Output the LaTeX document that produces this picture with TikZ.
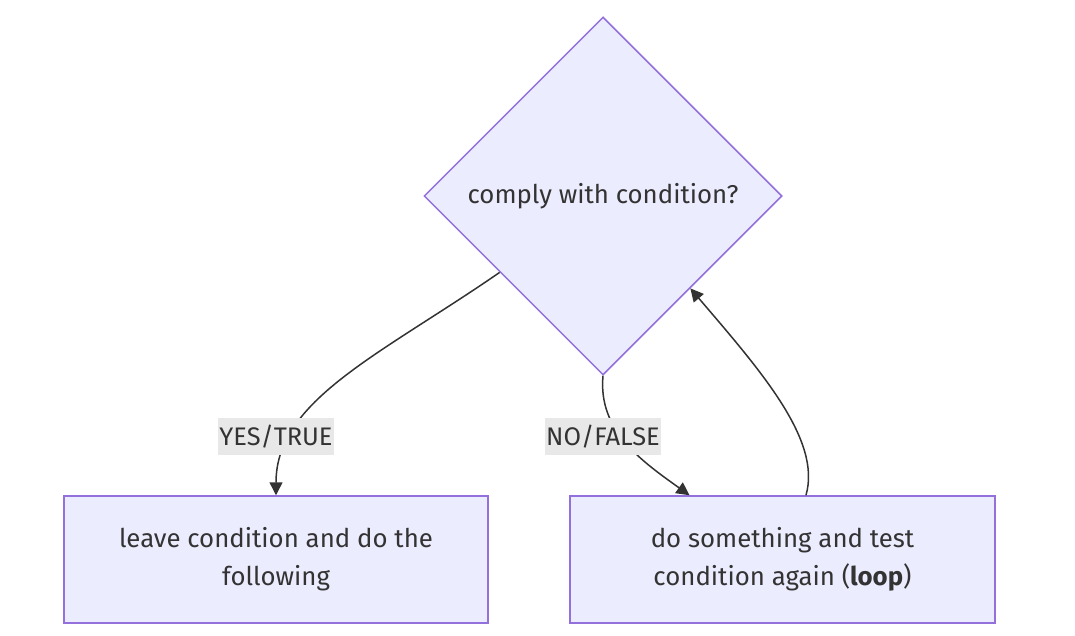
\documentclass[tikz,border=0pt]{standalone}
\usepackage{fontspec}
\setmainfont{Fira Sans}
\usetikzlibrary{shapes.geometric,arrows.meta,calc}
\definecolor{nodefill}{HTML}{ECECFF}
\definecolor{nodeline}{HTML}{9370DB}
\definecolor{edgecol}{HTML}{333333}
\definecolor{labelbg}{HTML}{E8E8E8}
\definecolor{txt}{HTML}{333333}
\tikzset{
  base/.style={draw=nodeline, fill=nodefill, line width=1.5pt, text=txt,
    font=\fontsize{25.8}{38}\selectfont, align=center, inner sep=0pt},
  decision/.style={base, diamond, aspect=1, minimum width=358pt, minimum height=358pt},
  procbox/.style={base, rectangle, minimum height=127pt},
  edge/.style={draw=edgecol, line width=1.5pt, -{Triangle[length=13pt,width=13pt]}},
  elabel/.style={fill=labelbg, text=txt, font=\fontsize{25.4}{30}\selectfont,
    inner xsep=1.5pt, inner ysep=0pt, minimum height=37pt}
}
\begin{document}
\begin{tikzpicture}[x=1pt,y=-1pt]
\useasboundingbox (0,0) rectangle (1075,636);
\node[decision] (d) at (603,196) {comply with condition?};
\node[procbox, minimum width=424pt] (l) at (276,559.5) {leave condition and do the\\following};
\node[procbox, minimum width=425pt] (r) at (782.5,559.5) {do something and test\\condition again (\textbf{loop})};
\coordinate (s1) at ($(d.west)!0.425!(d.south)$);
\coordinate (e2) at ($(r.north west)!0.282!(r.north east)$);
\coordinate (s3) at ($(r.north west)!0.555!(r.north east)$);
\coordinate (e3) at ($(d.south)!0.486!(d.east)$);
\draw[edge] (s1) .. controls (380,355) and (276,400) .. (l.north);
\draw[edge] (d.south) .. controls (598,430) and (640,460) .. (e2);
\draw[edge] (s3) .. controls (822,440) and (760,370) .. (e3);
\node[elabel] (yes) at (276,436.5) {YES/TRUE};
\node[elabel] (no) at (603,436.5) {NO/FALSE};
\end{tikzpicture}
\end{document}
